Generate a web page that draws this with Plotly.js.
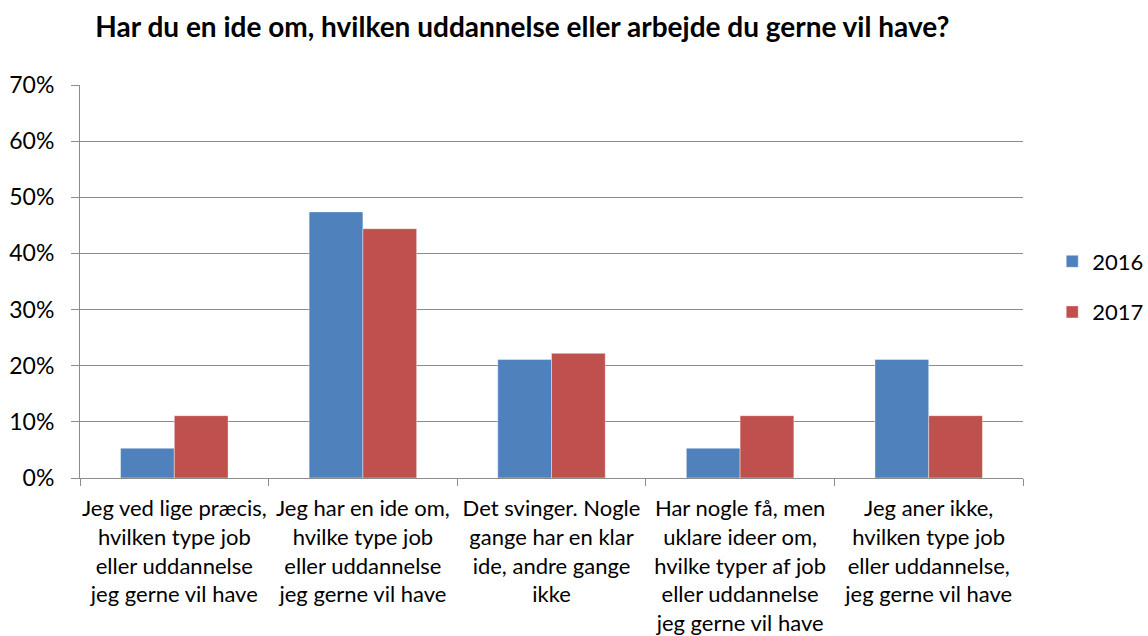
<!DOCTYPE html>
<html>
<head>
<meta charset="utf-8">
<script src="https://cdn.plot.ly/plotly-3.0.1.min.js"></script>
<style>html,body{margin:0;padding:0;background:#fff;}#chart{width:1148px;height:636px;}</style>
</head>
<body>
<div id="chart"></div>
<script>
const categories = [
  "Jeg ved lige præcis,<br>hvilken type job<br>eller uddannelse<br>jeg gerne vil have",
  "Jeg har en ide om,<br>hvilke type job<br>eller uddannelse<br>jeg gerne vil have",
  "Det svinger. Nogle<br>gange har en klar<br>ide, andre gange<br>ikke",
  "Har nogle få, men<br>uklare ideer om,<br>hvilke typer af job<br>eller uddannelse<br>jeg gerne vil have",
  "Jeg aner ikke,<br>hvilken type job<br>eller uddannelse,<br>jeg gerne vil have"
];
const values2016 = [5.3, 47.4, 21.1, 5.3, 21.1];
const values2017 = [11.1, 44.4, 22.2, 11.1, 11.1];
const seriesNames = ["2016", "2017"];
const titleText = "Har du en ide om, hvilken uddannelse eller arbejde du gerne vil have?";

const FONT = "Lato, 'Open Sans', sans-serif";
const data = [
  {type: "bar", name: seriesNames[0], x: categories, y: values2016, legendgroup: "a",
   marker: {color: "#4F81BD", line: {color: "rgba(255,255,255,0.5)", width: 0.8}}, hoverinfo: "y"},
  {type: "bar", name: seriesNames[1], x: categories, y: values2017, legendgroup: "b",
   marker: {color: "#C0504D", line: {color: "rgba(255,255,255,0.5)", width: 0.8}}, hoverinfo: "y"}
];
const layout = {
  width: 1148, height: 636,
  margin: {l: 80, r: 125, t: 85, b: 158, autoexpand: false},
  paper_bgcolor: "#fff", plot_bgcolor: "#fff",
  font: {family: FONT, size: 22, color: "#000"},
  title: {text: "<b>" + titleText + "</b>", x: 0.455, xanchor: "center", y: 0.957, yanchor: "middle",
          font: {family: FONT, size: 28, color: "#000"}},
  barmode: "group", bargap: 0.43, bargroupgap: 0,
  xaxis: {type: "category", showline: true, linecolor: "#8c8c8c", linewidth: 1,
          ticks: "outside", tickson: "boundaries", ticklen: 7, tickcolor: "#8c8c8c",
          showgrid: false, tickangle: 0, tickfont: {family: FONT, size: 22}, ticklabelstandoff: 11, automargin: false},
  yaxis: {range: [0, 70], dtick: 10, ticksuffix: "%", showline: true, linecolor: "#8c8c8c", linewidth: 1,
          ticks: "outside", ticklen: 8, tickcolor: "#8c8c8c", showgrid: true, gridcolor: "#8c8c8c", gridwidth: 1,
          zeroline: false, tickfont: {family: FONT, size: 23}, ticklabelstandoff: 12, automargin: false},
  legend: {x: 1.031, xanchor: "left", y: 0.486, yanchor: "middle", traceorder: "grouped", tracegroupgap: 19,
           font: {family: FONT, size: 22}, bgcolor: "rgba(0,0,0,0)"},
  showlegend: true
};
Plotly.newPlot("chart", data, layout, {displayModeBar: false, staticPlot: true});
</script>
</body>
</html>
